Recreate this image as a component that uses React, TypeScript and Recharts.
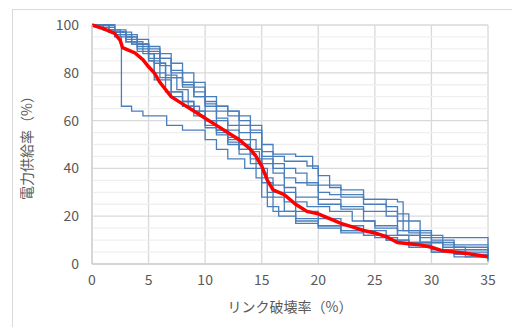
import { CartesianGrid, Line, LineChart, ReferenceLine, XAxis, YAxis } from "recharts";

type Pt = [number, number];

// individual trials (link-destruction %, supply %)
const trial1: Pt[] = [[0,100],[1,98],[2,95],[2.6,66],[3.5,64],[4.5,62],[6.6,58],[8,56],[10,52],[11,48],[12,44],[13.5,40],[14.5,36],[15,28],[16,22],[18,19],[20,16],[22,14],[25,11],[27,9],[30,6],[32,4],[35,2]];
const trial2: Pt[] = [[0,100],[1.5,98],[3,96],[4,94],[5,91],[6,88],[7,84],[8,80],[9,76],[10,70],[11,66],[12,64],[13,60],[14,56],[15,50],[16,45],[17,43],[19,41],[20,37],[21,32],[22,28],[24,27],[27,26],[27.5,14],[30,11],[35,8]];
const trial3: Pt[] = [[0,100],[1,99],[2,97],[3,95],[4,92],[5,88],[5.5,80],[6.5,78],[8,76],[9,74],[10,67],[11,64],[13,62],[14,58],[15,47],[16,46],[18,45],[19.5,40],[20,30],[21,29],[24,25],[26,24],[27,21],[28,13],[30,10],[32,7],[35,5]];
const trial4: Pt[] = [[0,100],[2,97],[3.5,92],[5,86],[6,83],[7,78],[8,74],[9,70],[10,66],[11,60],[12,56],[13,52],[14,48],[15,44],[16,40],[17,36],[18,34],[20,33],[22,31],[24,27],[26,22],[27,18],[29,12],[31,8],[35,6]];
const trial5: Pt[] = [[0,100],[1.5,97],[3,93],[4,90],[5,85],[6,78],[7,70],[8,66],[9,62],[10,58],[11,55],[12,52],[13,48],[14,44],[15,40],[15.5,30],[17,26],[19,24],[21,22],[23,18],[25,15],[27,12],[29,9],[31,6],[35,4]];
const trial6: Pt[] = [[0,100],[2,96],[3,94],[4,91],[5,88],[6,84],[6.5,72],[8,68],[9,64],[10,60],[11,56],[12,53],[13,50],[14,47],[14.8,43],[15,36],[16,33],[17,30],[18,22],[20,19],[22,16],[24,14],[26,12],[28,9],[30,6],[35,3]];
const trial7: Pt[] = [[0,100],[1,98],[2.5,95],[3.5,92],[5,89],[6,86],[7,81],[8,76],[9,72],[10,68],[11,66],[12,62],[13,58],[14,55],[15,45],[16,42],[17,40],[18,38],[19,33],[20,27],[22,24],[24,22],[26,20],[27,14],[29,11],[30,9],[32,6],[35,5]];
const trial8: Pt[] = [[0,100],[1.5,97],[3,93],[4,89],[5,85],[5.5,77],[7,72],[8,68],[9,64],[10,60],[11,56],[12,50],[13,46],[14,42],[15,38],[15.5,24],[16.5,20],[18,17],[20,15],[22,13],[24,12],[26,10],[28,8],[30,5],[32,3],[35,2]];
const trial9: Pt[] = [[0,100],[2,97],[3,95],[4,92],[5,90],[6,86],[7,80],[8,75],[9,70],[10,64],[11,61],[12,58],[13,55],[14,52],[14.5,48],[15,42],[16,38],[17,32],[18,28],[20,25],[22,23],[24,18],[25,16],[27,12],[29,9],[31,7],[33,5],[35,3]];
const trial10: Pt[] = [[0,100],[1,99],[2,96],[3.5,93],[4.5,88],[5.5,84],[6.5,79],[7.5,73],[8.5,66],[9.5,62],[10,57],[11,54],[12,51],[13,48],[14,46],[14.5,40],[15,34],[16,28],[17,22],[18,18],[20,16],[22,14],[24,12],[26,10],[28,7],[30,5],[33,3],[35,1]];

const average: Pt[] = [[0,100],[1,98.5],[2,96.5],[2.5,93.5],[2.7,90.5],[3.8,88.3],[4.5,85.5],[5,82.5],[5.5,80],[6,76],[6.5,73],[7,70],[8,67],[9,64],[10,61],[11,58],[12,55],[13,52],[14,48],[14.5,45],[15,41],[15.5,35],[16,31],[17,29],[18,25],[19,22],[20,21],[21,19],[22,17],[23,15.5],[24,14],[25,13],[26,11.5],[27,9],[28,8.5],[29,8],[30,7],[31,5.5],[32,5],[33,4.5],[34,3.8],[35,3]];

const trials = [trial1, trial2, trial3, trial4, trial5, trial6, trial7, trial8, trial9, trial10];

const xTicks = [0, 5, 10, 15, 20, 25, 30, 35];
const yTicks = [0, 20, 40, 60, 80, 100];
const yMinor = [5, 10, 15, 25, 30, 35, 45, 50, 55, 65, 70, 75, 85, 90, 95];

const toRows = (pts: Pt[]) => pts.map(([x, y]) => ({ x, y }));

const font = "'Noto Sans CJK JP', 'Open Sans', sans-serif";
const tick = { fill: "#595959", fontSize: 14, fontFamily: font };

export default function App() {
  return (
    <div style={{ position: "absolute", left: 0, top: 0, width: 512, height: 327, overflow: "hidden", background: "#fff" }}>
      <div style={{ position: "absolute", left: 12, top: 9, width: 600, height: 400, border: "1px solid #d9d9d9" }} />
      <div style={{ position: "absolute", left: 0, top: 0 }}>
        <LineChart width={512} height={327} margin={{ top: 25, right: 24, left: 0, bottom: 0 }}>
          <CartesianGrid stroke="#d9d9d9" strokeWidth={1.3} />
          {yMinor.map((v) => (
            <ReferenceLine key={v} y={v} stroke="#efefef" strokeWidth={1.3} />
          ))}
          <XAxis
            dataKey="x"
            type="number"
            domain={[0, 35]}
            ticks={xTicks}
            allowDuplicatedCategory={false}
            height={63}
            tickSize={0}
            tickMargin={11}
            tick={tick}
            axisLine={{ stroke: "#d0d0d0", strokeWidth: 1.3 }}
            label={{ value: "リンク破壊率（%）", position: "insideBottom", offset: 15, fill: "#595959", fontSize: 14, fontFamily: font }}
          />
          <YAxis
            type="number"
            domain={[0, 100]}
            ticks={yTicks}
            width={92}
            tickSize={0}
            tickMargin={13}
            tick={tick}
            axisLine={{ stroke: "#d0d0d0", strokeWidth: 1.3 }}
            label={{ value: "電力供給率（%）", angle: -90, position: "insideLeft", offset: 27, fill: "#595959", fontSize: 14, fontFamily: font, style: { textAnchor: "middle" } }}
          />
          {trials.map((t, i) => (
            <Line
              key={i}
              data={toRows(t)}
              dataKey="y"
              type="stepAfter"
              stroke="#4a7ebb"
              strokeWidth={1.3}
              dot={false}
              isAnimationActive={false}
            />
          ))}
          <Line
            data={toRows(average)}
            dataKey="y"
            type="linear"
            stroke="#ff0000"
            strokeWidth={3.5}
            dot={false}
            isAnimationActive={false}
          />
        </LineChart>
      </div>
    </div>
  );
}
